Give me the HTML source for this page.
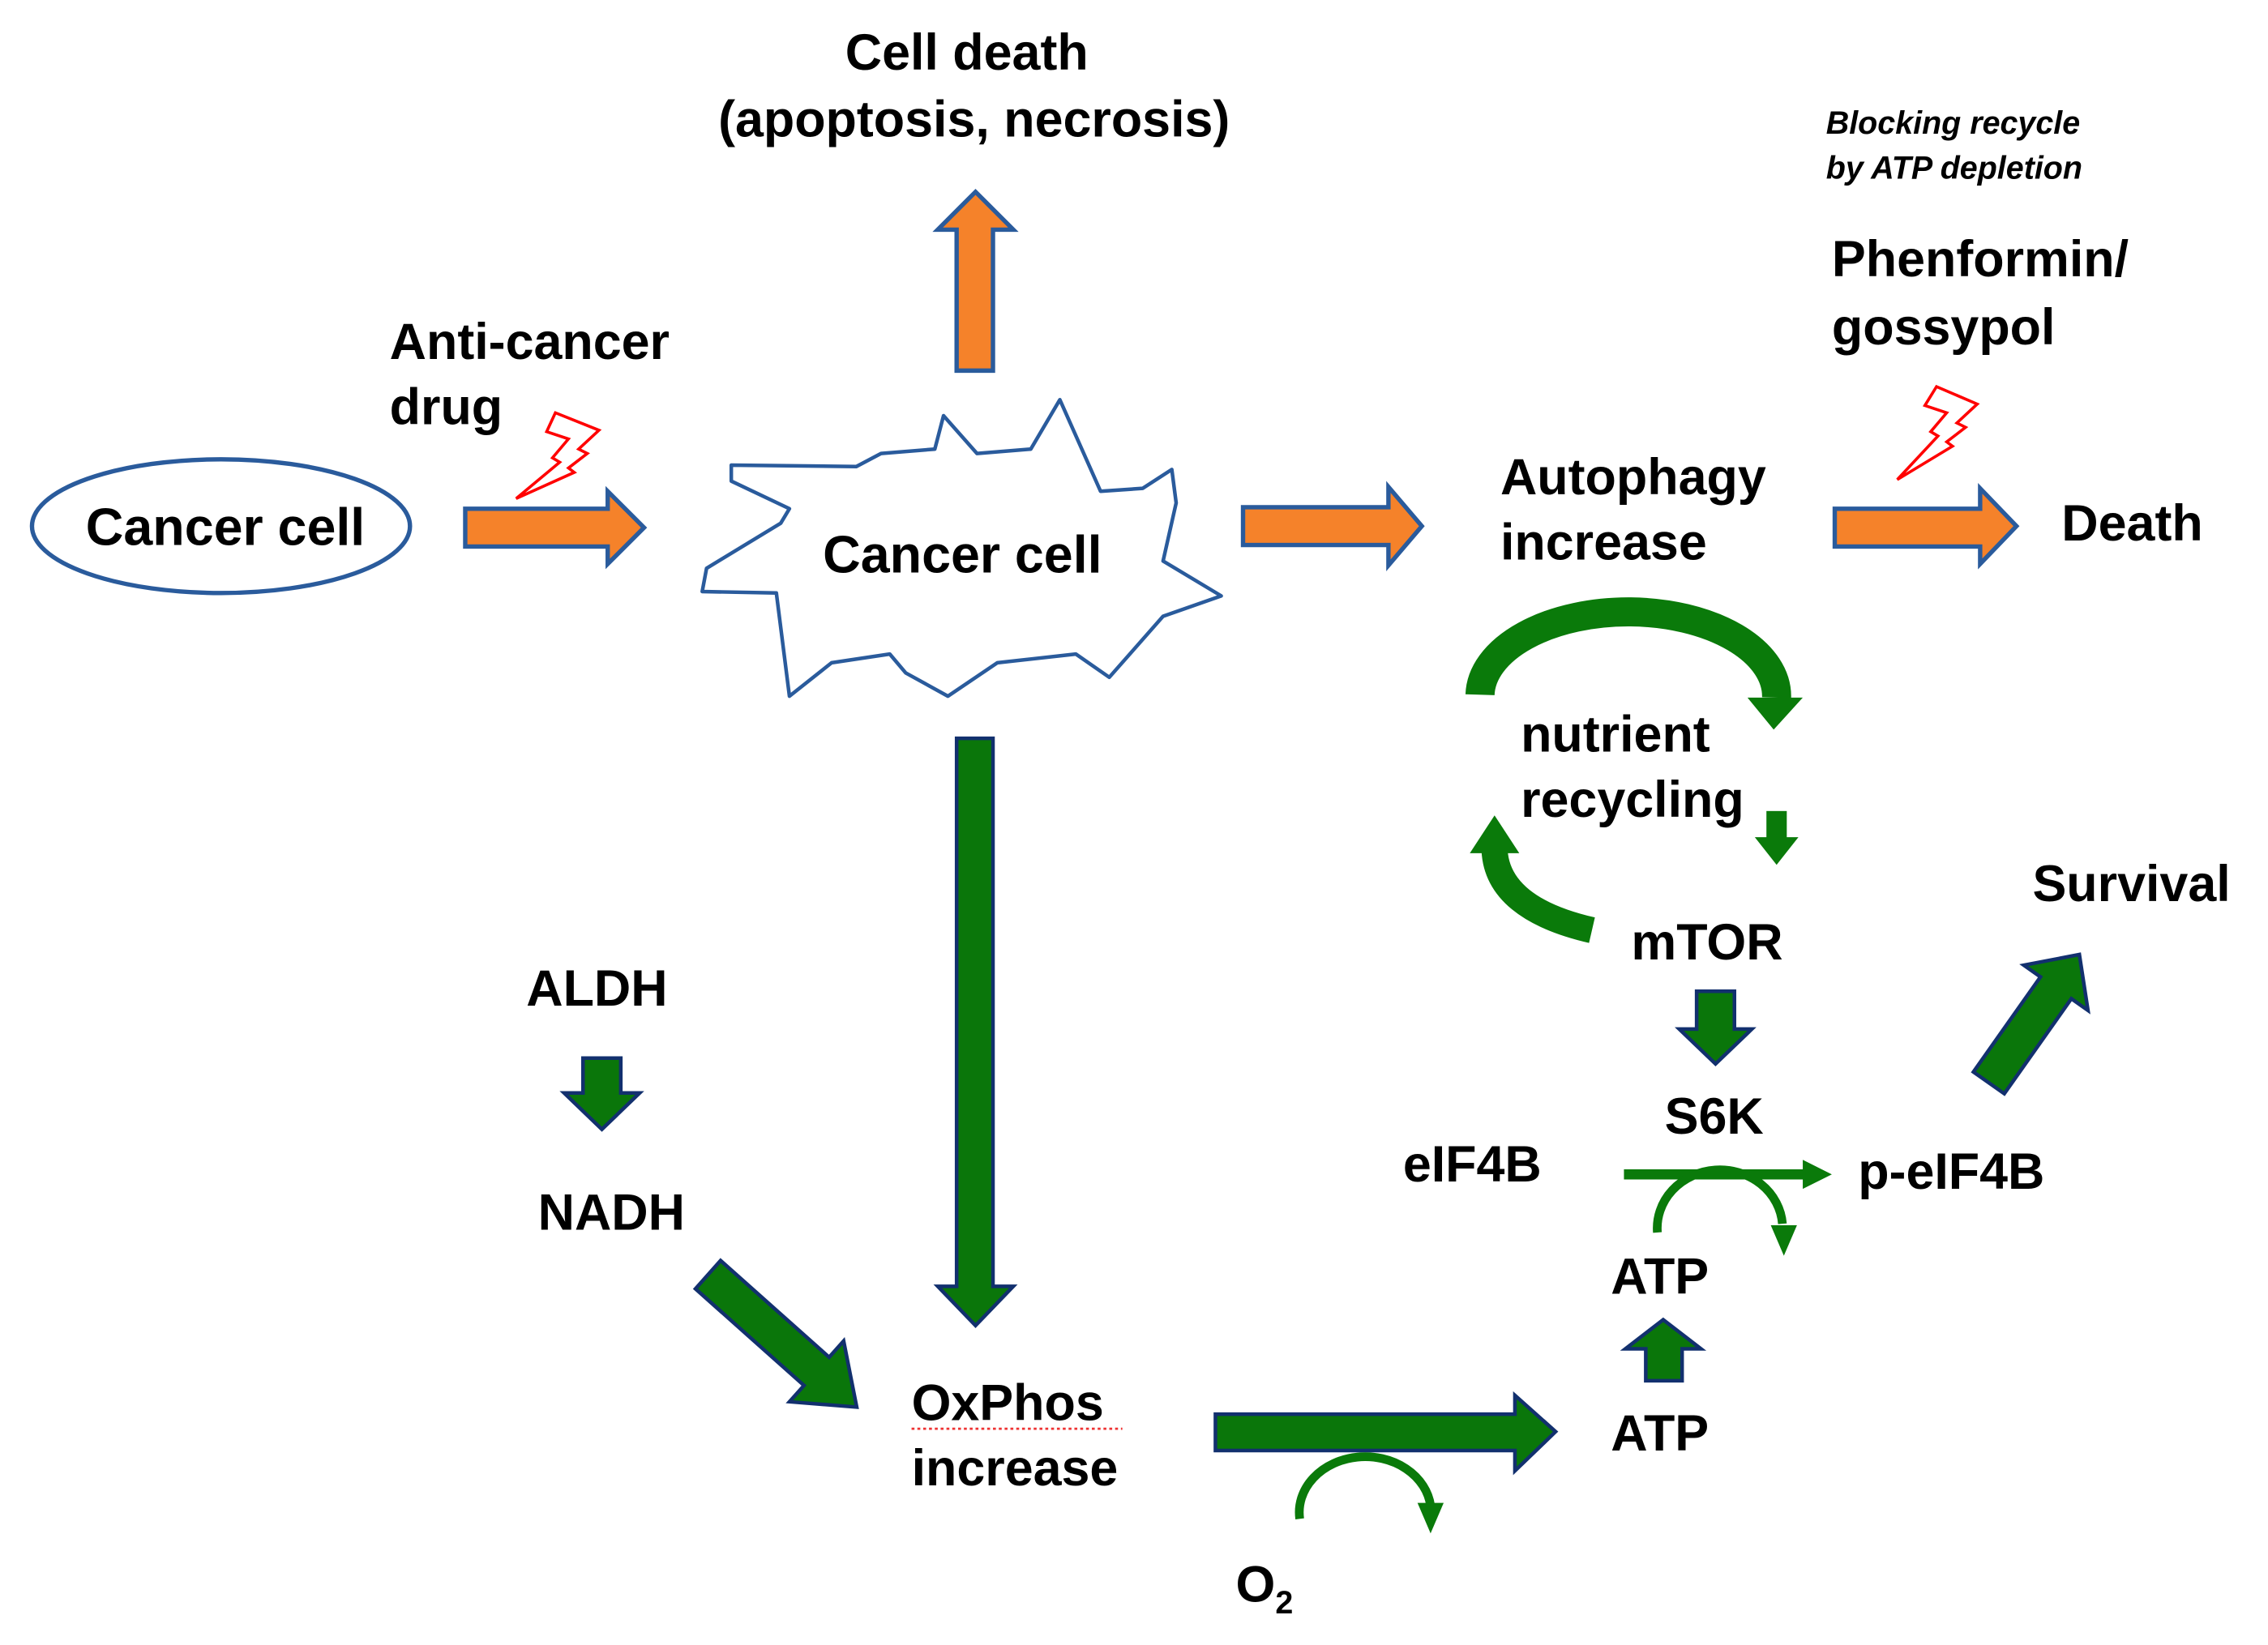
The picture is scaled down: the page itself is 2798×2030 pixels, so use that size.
<!DOCTYPE html>
<html><head><meta charset="utf-8"><style>
html,body{margin:0;padding:0;background:#fff}
svg{display:block}
text{font-family:"Liberation Sans",Arial,sans-serif;font-weight:bold;fill:#000}
</style></head><body>
<svg width="2798" height="2030" viewBox="0 0 1560 1131.8" xmlns="http://www.w3.org/2000/svg">
<rect width="1560" height="1132" fill="#fff"/>
<ellipse cx="152" cy="362" rx="130" ry="46" fill="none" stroke="#2A5B9C" stroke-width="3"/>
<polygon points="503,320 589,321 606,312 643,309 649,286 672,312 709,309 729,275 757,338 786,336 806,323 809,346 800,386 840,410 800,424 763,466 740,450 686,456 652,479 623,463 612,450 572,456 543,479 534,408 483,407 486,391 537,360 543,350 503,331" fill="#fff" stroke="#2A5B9C" stroke-width="2.5" stroke-linejoin="round"/>
<g font-size="35">
<text x="665" y="48" text-anchor="middle">Cell death</text>
<text x="670" y="94" text-anchor="middle">(apoptosis, necrosis)</text>
<text x="268" y="247">Anti-cancer</text>
<text x="268" y="292">drug</text>
<text x="1032" y="340">Autophagy</text>
<text x="1032" y="385">increase</text>
<text x="1260" y="190">Phenformin/</text>
<text x="1260" y="237">gossypol</text>
<text x="1418" y="372">Death</text>
<text x="1046" y="517">nutrient</text>
<text x="1046" y="562">recycling</text>
<text x="1122" y="660">mTOR</text>
<text x="1145" y="780">S6K</text>
<text x="965" y="813">eIF4B</text>
<text x="1278" y="818">p-eIF4B</text>
<text x="1108" y="890">ATP</text>
<text x="1108" y="998">ATP</text>
<text x="1398" y="620">Survival</text>
<text x="362" y="692">ALDH</text>
<text x="370" y="846">NADH</text>
<text x="627" y="977">OxPhos</text>
<text x="627" y="1022">increase</text>
<text x="850" y="1102">O<tspan font-size="22" dy="8">2</tspan></text>
<text x="155" y="375" text-anchor="middle" font-size="36">Cancer cell</text>
<text x="662" y="394" text-anchor="middle" font-size="36">Cancer cell</text>
</g>
<path d="M627,983 H772" stroke="#e33" stroke-width="1.5" stroke-dasharray="2,2"/>
<g font-size="22" font-style="italic"><text x="1256" y="92">Blocking recycle</text><text x="1256" y="123">by ATP depletion</text></g>

<g fill="#F5822A" stroke="#2A5B9C" stroke-width="3">
<polygon points="658,255 658,158 645,158 671,132 697,158 683,158 683,255"/>
<polygon points="320,350 418,350 418,338 443,363 418,388 418,376 320,376"/>
<polygon points="855,349 955,349 955,335 978,362 955,389 955,375 855,375"/>
<polygon points="1262,350 1362,350 1362,336 1387,362 1362,388 1362,376 1262,376"/>
</g>
<g fill="#fff" stroke="#f00" stroke-width="2">
<polygon points="382,284 412,296 398,309 404,312 391,322 395,325 355,343 385,318 380,315 391,302 376,297"/>
<polygon points="1332,266 1360,278 1346,291 1352,294 1339,304 1343,307 1305,330 1333,300 1328,297 1339,284 1324,279"/>
</g>

<g fill="#0A760A" stroke="#12306E" stroke-width="2.5">
<polygon points="658,508 683,508 683,885 697,885 671,912 645,885 658,885"/>
<polygon points="401,728 427,728 427,752 440,752 414,777 388,752 401,752"/>
<polygon points="1167,682 1193,682 1193,708 1205,708 1180,732 1155,708 1167,708"/>
<polygon points="1132,950 1157,950 1157,928 1170,928 1144,908 1118,928 1132,928"/>
<polygon points="836,973 1042,973 1042,960 1070,985 1042,1012 1042,998 836,998"/>
<g transform="translate(487,877) rotate(41.7)"><polygon points="0,-13 100,-13 100,-28 137,0 100,28 100,13 0,13"/></g>
<g transform="translate(1368,745) rotate(-54.8)"><polygon points="0,-13 80,-13 80,-27 108,0 80,27 80,13 0,13"/></g>
</g>

<g fill="none" stroke="#0A7A0A">
<path d="M1018,478 A102,58 0 0 1 1222,480" stroke-width="20"/>
<path d="M1095,640 Q1030,625 1028,585" stroke-width="18"/>
<path d="M1117,808 H1245" stroke-width="7"/>
<path d="M1140,848 A43,40 0 0 1 1226,842" stroke-width="6"/>
<path d="M894,1045 A45,38 0 0 1 984,1036" stroke-width="6"/>
</g>
<g fill="#0A7A0A">
<polygon points="1202,480 1240,480 1220,502"/>
<polygon points="1011,587 1045,587 1028,561"/>
<rect x="1215" y="558" width="14" height="20"/>
<polygon points="1207,576 1237,576 1222,595"/>
<polygon points="1240,798 1260,808 1240,818"/>
<polygon points="1218,843 1236,843 1227,864"/>
<polygon points="975,1034 993,1034 984,1055"/>
</g>
</svg>
</body></html>
